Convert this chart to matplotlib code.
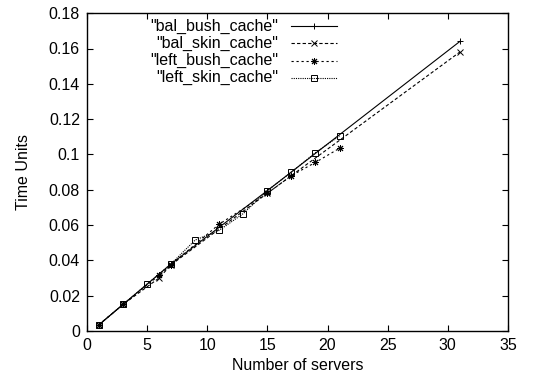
import matplotlib
matplotlib.use('Agg')
import matplotlib.pyplot as plt
from matplotlib.ticker import FuncFormatter, MultipleLocator

plt.rcParams['font.family'] = ['Liberation Sans', 'DejaVu Sans']

# tiempos medidos por cantidad de servidores
bal_bush_x = [1, 3, 7, 15, 31]
bal_bush_y = [0.0035, 0.015, 0.038, 0.0795, 0.164]

bal_skin_x = [1, 3, 6, 7, 15, 31]
bal_skin_y = [0.0035, 0.015, 0.030, 0.0375, 0.078, 0.158]

left_bush_x = [1, 3, 6, 7, 11, 15, 17, 19, 21]
left_bush_y = [0.0035, 0.015, 0.0315, 0.0375, 0.0605, 0.078, 0.088, 0.0955, 0.1035]

left_skin_x = [1, 3, 5, 7, 9, 11, 13, 15, 17, 19, 21]
left_skin_y = [0.0035, 0.015, 0.0265, 0.038, 0.0515, 0.057, 0.0665, 0.0795, 0.090, 0.101, 0.1105]

labels = ['"bal_bush_cache"', '"bal_skin_cache"', '"left_bush_cache"', '"left_skin_cache"']

FS = 11.5


def show():
    fig = plt.figure(figsize=(5.57, 3.88), dpi=100)
    ax = fig.add_axes([0.156, 0.147, 0.756, 0.819])

    estilos = [
        dict(ls='-', marker='+', ms=5),
        dict(ls=(0, (3, 2)), marker='x', ms=4),
        dict(ls=(0, (2, 2.5)), marker=(8, 2, 0), ms=5),
        dict(ls=(0, (1, 1)), marker='s', ms=4.5, mfc='none'),
    ]
    series = [(bal_bush_x, bal_bush_y), (bal_skin_x, bal_skin_y),
              (left_bush_x, left_bush_y), (left_skin_x, left_skin_y)]

    for (x, y), st in zip(series, estilos):
        ax.plot(x, y, color='black', lw=0.8, mew=0.7, **st)

    # leyenda estilo gnuplot: texto a la derecha, muestra a la izquierda
    filas = [0.959, 0.905, 0.851, 0.797]
    for lab, st, fy in zip(labels, estilos, filas):
        ax.text(0.455, fy, lab, transform=ax.transAxes, ha='right',
                va='center', fontsize=FS)
        ax.plot([0.485, 0.594], [fy, fy], transform=ax.transAxes,
                color='black', lw=0.8, ls=st['ls'])
        ax.plot([0.539], [fy], transform=ax.transAxes, color='black',
                ls='none', marker=st['marker'], ms=st['ms'], mew=0.7,
                mfc=st.get('mfc', 'black'))

    ax.set_xlim(0, 35)
    ax.set_ylim(0, 0.18)
    ax.xaxis.set_major_locator(MultipleLocator(5))
    ax.yaxis.set_major_locator(MultipleLocator(0.02))
    ax.yaxis.set_major_formatter(FuncFormatter(lambda v, p: '%g' % round(v, 4)))
    ax.tick_params(direction='in', top=True, right=True, length=4,
                   width=0.8, labelsize=FS, pad=5)
    for s in ax.spines.values():
        s.set_linewidth(1.0)

    ax.set_xlabel('Number of servers', fontsize=FS, labelpad=4)
    ax.set_ylabel('Time Units', fontsize=FS, labelpad=13)

    fig.savefig('out.png', dpi=100)


if __name__ == "__main__":
    show()
